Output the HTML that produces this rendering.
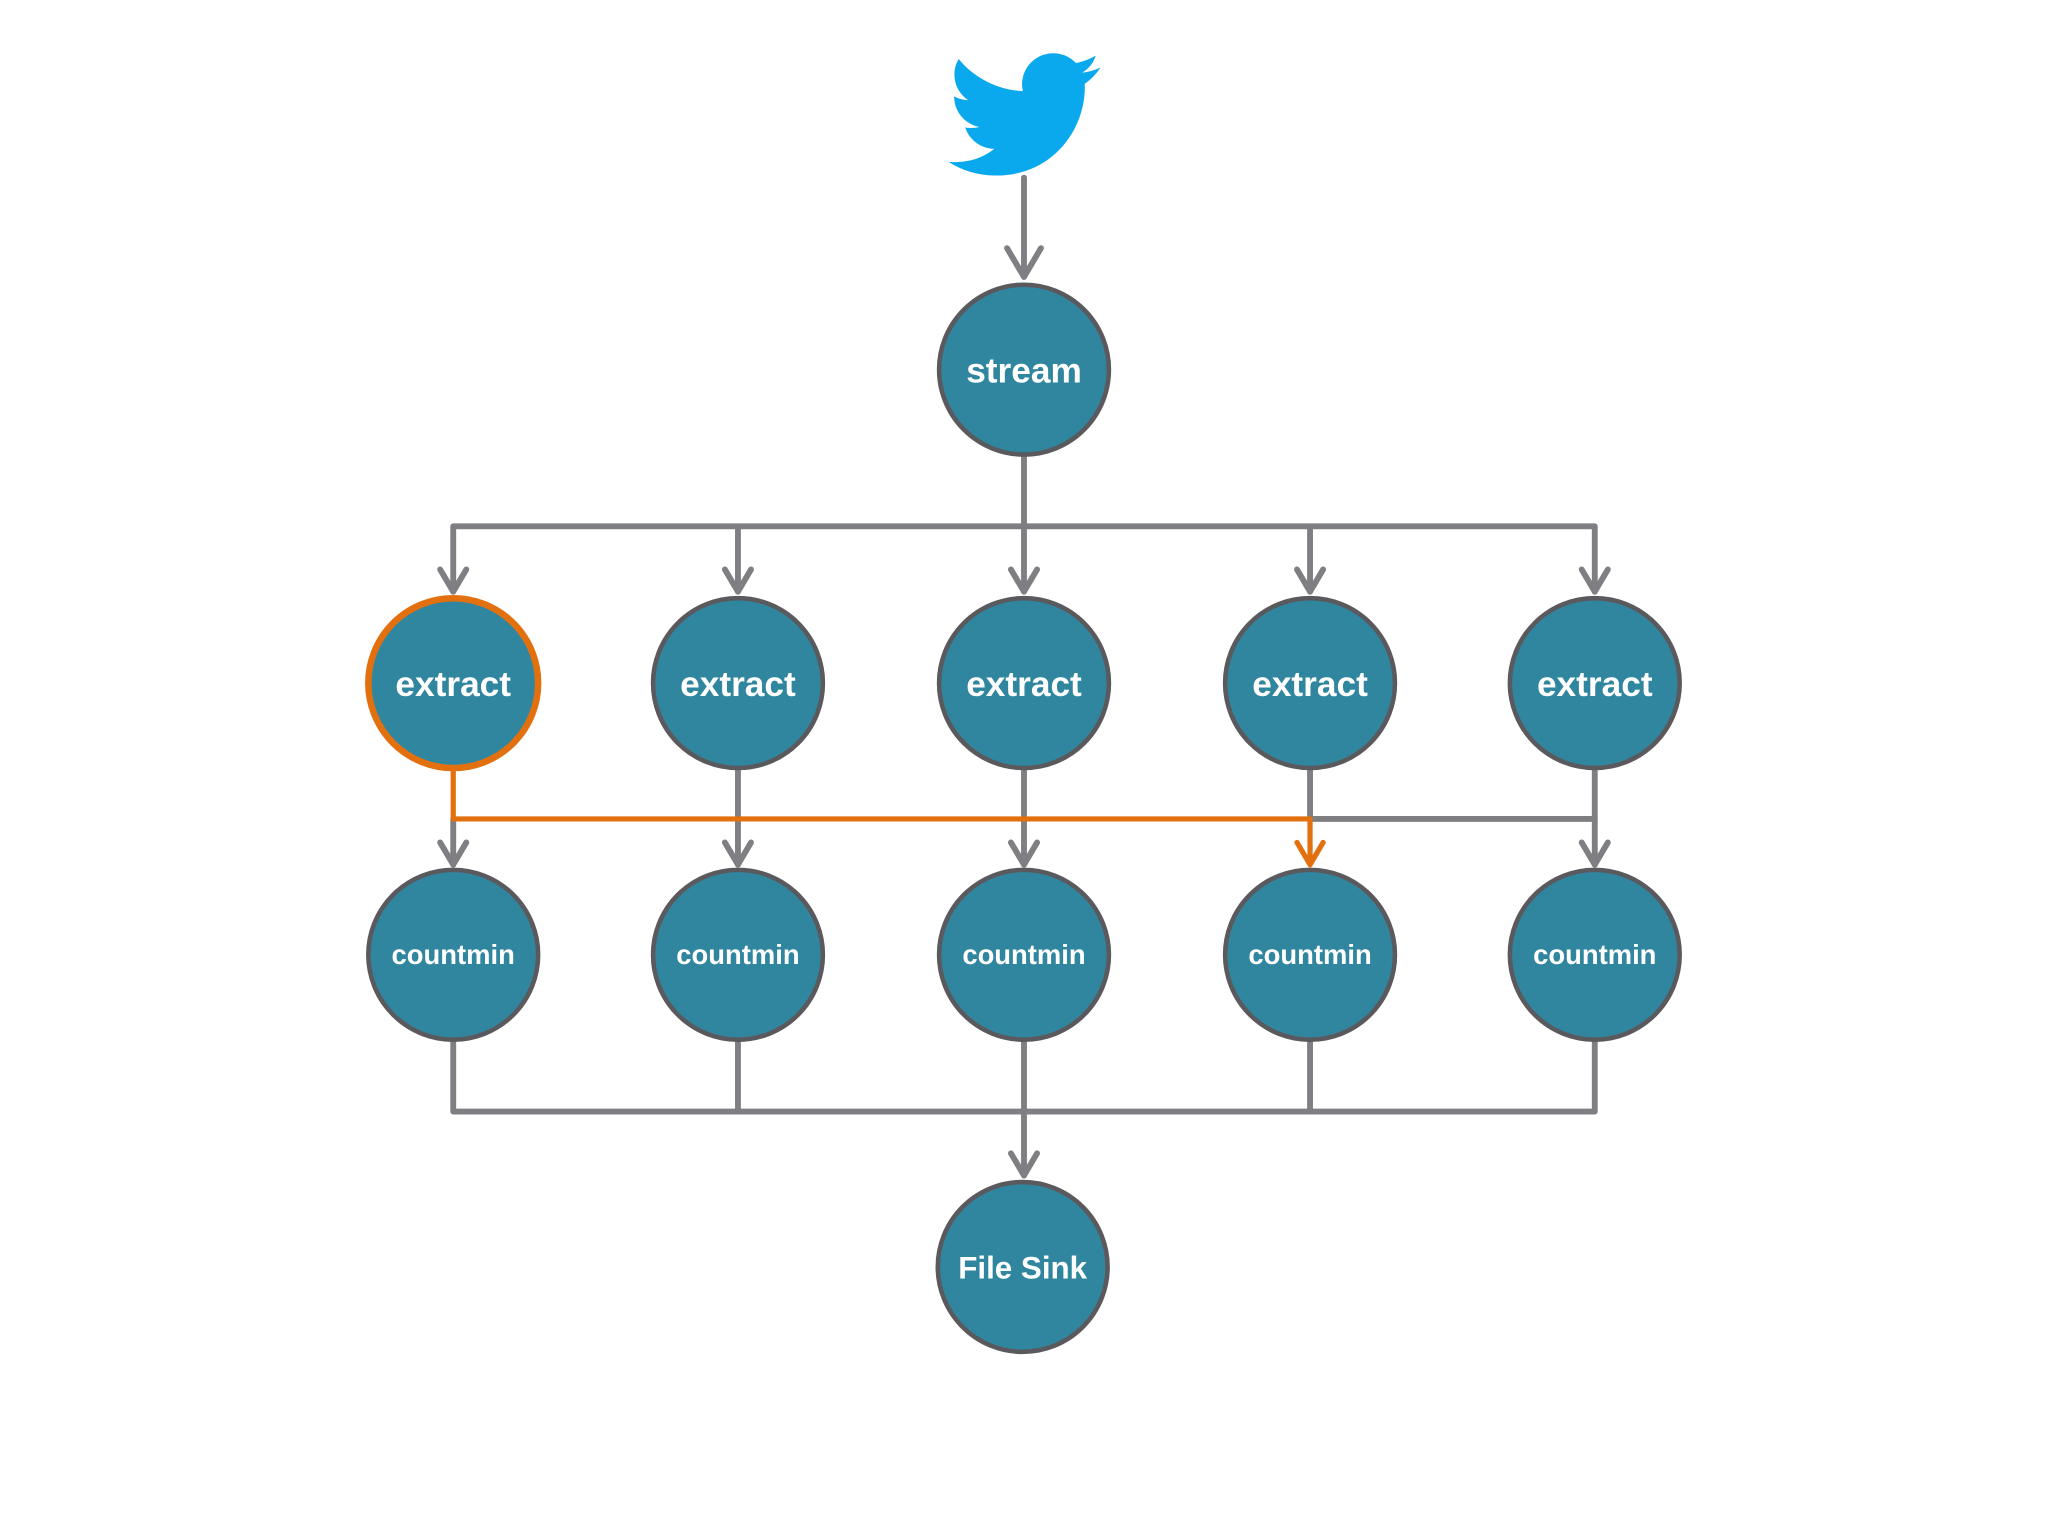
<!DOCTYPE html>
<html><head><meta charset="utf-8"><style>
html,body{margin:0;padding:0;background:#fff;}
svg{display:block;}
text{font-family:"Liberation Sans",sans-serif;font-weight:bold;fill:#fff;text-anchor:middle;}
</style></head><body>
<svg width="2048" height="1536" viewBox="0 0 1568 1176" xmlns="http://www.w3.org/2000/svg">
<rect width="1568" height="1176" fill="#fff"/>
<g transform="translate(726,30) scale(4.85,4.8)">
<path fill="#0aa8ec" d="M23.953 4.57a10 10 0 01-2.825.775 4.958 4.958 0 002.163-2.723c-.951.555-2.005.959-3.127 1.184a4.920 4.920 0 00-8.384 4.482C7.690 8.095 4.067 6.130 1.640 3.162a4.822 4.822 0 00-.666 2.475c0 1.710.870 3.213 2.188 4.096a4.904 4.904 0 01-2.228-.616v.060a4.923 4.923 0 003.946 4.827 4.996 4.996 0 01-2.212.085 4.936 4.936 0 004.604 3.417 9.867 9.867 0 01-6.102 2.105c-.390 0-.779-.023-1.170-.067a13.995 13.995 0 007.557 2.209c9.053 0 13.998-7.496 13.998-13.985 0-.210 0-.420-.015-.630A9.935 9.935 0 0024 4.590z"/>
</g>
<g stroke="#7f7f83" stroke-width="4.5" fill="none" stroke-linecap="round" stroke-linejoin="round">
<line x1="784" y1="136" x2="784" y2="212"/>
<polyline points="771,190 784,212 797,190"/>
<line x1="784" y1="350" x2="784" y2="403"/>
<polyline points="347,453 347,403 1221,403 1221,453"/>
<line x1="565" y1="403" x2="565" y2="453"/>
<line x1="784" y1="403" x2="784" y2="453"/>
<line x1="1003" y1="403" x2="1003" y2="453"/>
<polyline points="337,436 347,453 357,436"/>
<polyline points="555,436 565,453 575,436"/>
<polyline points="774,436 784,453 794,436"/>
<polyline points="993,436 1003,453 1013,436"/>
<polyline points="1211,436 1221,453 1231,436"/>
<line x1="347" y1="627" x2="347" y2="662"/>
<line x1="565" y1="590" x2="565" y2="662"/>
<line x1="784" y1="590" x2="784" y2="662"/>
<line x1="1003" y1="590" x2="1003" y2="627"/>
<polyline points="1003,627 1221,627"/>
<line x1="1221" y1="590" x2="1221" y2="662"/>
<polyline points="337,645 347,662 357,645"/>
<polyline points="555,645 565,662 575,645"/>
<polyline points="774,645 784,662 794,645"/>
<polyline points="1211,645 1221,662 1231,645"/>
<polyline points="347,798 347,851 1221,851 1221,798"/>
<line x1="565" y1="798" x2="565" y2="851"/>
<line x1="784" y1="798" x2="784" y2="900"/>
<line x1="1003" y1="798" x2="1003" y2="851"/>
<polyline points="774,883 784,900 794,883"/>
</g>
<g stroke="#e2700f" stroke-width="4" fill="none" stroke-linecap="round" stroke-linejoin="round">
<polyline points="347,590 347,627 1003,627 1003,662"/>
<polyline points="993,645 1003,662 1013,645"/>
</g>
<g fill="#31869f" stroke="#5a5a5e" stroke-width="3.5">
<circle cx="784" cy="283" r="65"/>
<circle cx="347" cy="523" r="65" stroke="#e2700f" stroke-width="5"/>
<circle cx="565" cy="523" r="65"/>
<circle cx="784" cy="523" r="65"/>
<circle cx="1003" cy="523" r="65"/>
<circle cx="1221" cy="523" r="65"/>
<circle cx="347" cy="731" r="65"/>
<circle cx="565" cy="731" r="65"/>
<circle cx="784" cy="731" r="65"/>
<circle cx="1003" cy="731" r="65"/>
<circle cx="1221" cy="731" r="65"/>
<circle cx="783" cy="970" r="65"/>
</g>
<g font-size="27">
<text x="784" y="293">stream</text>
<text x="347" y="533">extract</text>
<text x="565" y="533">extract</text>
<text x="784" y="533">extract</text>
<text x="1003" y="533">extract</text>
<text x="1221" y="533">extract</text>
</g>
<g font-size="21">
<text x="347" y="738">countmin</text>
<text x="565" y="738">countmin</text>
<text x="784" y="738">countmin</text>
<text x="1003" y="738">countmin</text>
<text x="1221" y="738">countmin</text>
</g>
<text x="783" y="979" font-size="24">File Sink</text>
</svg>
</body></html>
